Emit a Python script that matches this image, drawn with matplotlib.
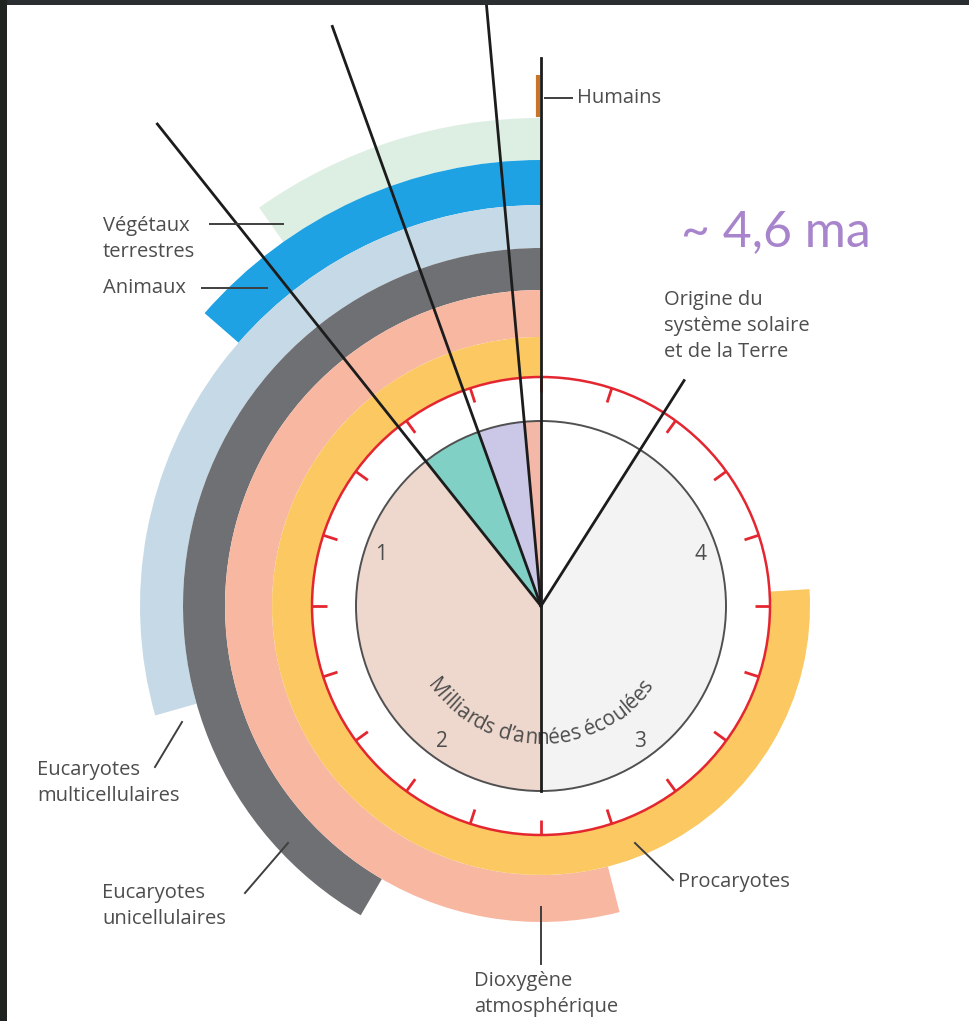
import numpy as np
import matplotlib
matplotlib.use("Agg")
import matplotlib.pyplot as plt
from matplotlib.patches import Wedge, Circle, Rectangle
from matplotlib.font_manager import FontProperties

W, H = 969, 1021          # taille de l'image en pixels (dpi = 100)
CX, CY = 541, H - 606     # centre du cadran, en coordonnées pixel (y vers le haut)
GA_TOUR = 5.0             # un tour complet du cadran = 5 milliards d'années
DEG_PAR_GA = 360.0 / GA_TOUR

# Données : début de chaque groupe (milliards d'années avant le présent)
ANNEAU_NOMS = ["Végétaux terrestres", "Animaux", "Eucaryotes multicellulaires",
               "Eucaryotes unicellulaires", "Dioxygène atmosphérique", "Procaryotes"]
ANNEAU_DEBUT_GA = [0.49, 0.68, 1.47, 2.08, 2.70, 3.80]

# Traits noirs partant du centre (Ga) et origine de la Terre
TRAITS_GA = [0.535, 0.275, 0.072]
ORIGINE_GA = 4.55

# Secteurs du disque central (bornes en Ga)
SECTEUR_BORNES_GA = [0.0, 0.072, 0.275, 0.535, 2.5, ORIGINE_GA, GA_TOUR]

# Graduations
GRAD_PAS_GA = 0.25
GRAD_CHIFFRES = [1, 2, 3, 4]

# Mise en forme (rayons en pixels, couleurs)
ANNEAU_RAYONS = [(446, 488), (401, 446), (358, 401), (316, 358), (269, 316), (229, 269)]
ANNEAU_COULEURS = ["#dcefe2", "#1ea2e4", "#c6d9e6", "#6f7074", "#f8b7a1", "#fbc862"]
SECTEUR_COULEURS = ["#f4b8a8", "#cbc7e6", "#81d0c6", "#eed7cd", "#f3f3f3", "#ffffff"]
R_DISQUE = 185
R_ROUGE = 229
ROUGE = "#e32630"
GRIS_TXT = "#4d4d4d"
NOIR = "#1c1c1c"

plt.rcParams["font.family"] = ["Open Sans", "DejaVu Sans"]


def angle(t):
    # angle matplotlib (degrés, depuis +x, sens trigo) pour un âge t en Ga
    return 90.0 + DEG_PAR_GA * t


def point(t, r):
    a = np.radians(angle(t))
    return CX + r * np.cos(a), CY + r * np.sin(a)


fig = plt.figure(figsize=(W / 100, H / 100), dpi=100)
ax = fig.add_axes([0, 0, 1, 1])
ax.set_xlim(0, W)
ax.set_ylim(0, H)
ax.set_aspect("equal")
ax.axis("off")

# Anneaux des groupes vivants
for debut, (r_in, r_out), coul in zip(ANNEAU_DEBUT_GA, ANNEAU_RAYONS, ANNEAU_COULEURS):
    ax.add_patch(Wedge((CX, CY), r_out, 90, angle(debut), width=r_out - r_in,
                       facecolor=coul, edgecolor="none", zorder=1))

# Disque central découpé en secteurs
for a, b, coul in zip(SECTEUR_BORNES_GA[:-1], SECTEUR_BORNES_GA[1:], SECTEUR_COULEURS):
    ax.add_patch(Wedge((CX, CY), R_DISQUE, angle(a), angle(b),
                       facecolor=coul, edgecolor="none", zorder=2))
ax.add_patch(Circle((CX, CY), R_DISQUE, facecolor="none", edgecolor="#505050",
                    linewidth=1.4, zorder=3))

# Cercle rouge gradué
ax.add_patch(Circle((CX, CY), R_ROUGE, facecolor="none", edgecolor=ROUGE,
                    linewidth=1.8, zorder=3))
for t in np.arange(0, GA_TOUR, GRAD_PAS_GA):
    x0, y0 = point(t, R_ROUGE)
    x1, y1 = point(t, R_ROUGE - 15)
    ax.plot([x0, x1], [y0, y1], color=ROUGE, linewidth=2.0,
            solid_capstyle="butt", zorder=3)

for n in GRAD_CHIFFRES:
    x, y = point(n, 168)
    ax.text(x, y, str(n), fontsize=15, color=GRIS_TXT, ha="center", va="center", zorder=4)

# Traits noirs depuis le centre
for t in TRAITS_GA:
    x, y = point(t, 616)
    ax.plot([CX, x], [CY, y], color=NOIR, linewidth=2.0, zorder=5)
x, y = point(ORIGINE_GA, 267)
ax.plot([CX, x], [CY, y], color=NOIR, linewidth=2.0, zorder=5)
ax.plot([CX, CX], [CY - R_DISQUE, CY + 548], color=NOIR, linewidth=2.0, zorder=5)

# Humains : petit trait orange tout en haut
ax.plot([CX - 2.5, CX - 2.5], [H - 75, H - 117], color="#c8742a",
        linewidth=3, solid_capstyle="butt", zorder=4)

# Texte courbe "Milliards d'années écoulées"
titre = "Milliards d\u2019années écoulées"
prop = FontProperties(family=["Open Sans", "DejaVu Sans"], size=15)
renderer = fig.canvas.get_renderer()


def largeur(s):
    if not s:
        return 0.0
    w, h, d = renderer.get_text_width_height_descent(s, prop, ismath=False)
    return w


R_TXT = 138
total = largeur(titre)
for i, ch in enumerate(titre):
    s = (largeur(titre[:i]) + largeur(titre[:i + 1])) / 2 - total / 2
    phi = -np.pi / 2 + s / R_TXT
    x = CX + R_TXT * np.cos(phi)
    y = CY + R_TXT * np.sin(phi)
    ax.text(x, y, ch, fontproperties=prop, color=GRIS_TXT, ha="center", va="baseline",
            rotation=np.degrees(phi) + 90, rotation_mode="anchor", zorder=4)

# Étiquettes et traits de rappel
def rappel(x0, y0, x1, y1):
    ax.plot([x0, x1], [H - y0, H - y1], color="#3f3f3f", linewidth=1.4, zorder=6)


def etiquette(x, y, s):
    ax.text(x, H - y, s, fontsize=14.5, color=GRIS_TXT, ha="left", va="center",
            linespacing=1.4, zorder=6)


etiquette(577, 98, "Humains")
rappel(545, 98, 572, 98)
etiquette(103, 239, "Végétaux\nterrestres")
rappel(210, 224, 283, 224)
etiquette(103, 288, "Animaux")
rappel(202, 288, 267, 288)
etiquette(664, 326, "Origine du\nsystème solaire\net de la Terre")
etiquette(37, 783, "Eucaryotes\nmulticellulaires")
rappel(155, 767, 182, 722)
etiquette(102, 906, "Eucaryotes\nunicellulaires")
rappel(245, 893, 288, 843)
etiquette(678, 882, "Procaryotes")
rappel(635, 843, 673, 880)
etiquette(474, 994, "Dioxygène\natmosphérique")
rappel(541, 907, 541, 964)

ax.text(681, H - 232, "~ 4,6 ma", fontsize=36, color="#a884cc",
        family=["Lato", "DejaVu Sans"], ha="left", va="center", zorder=6)

# Bordures sombres de la capture d'écran
ax.add_patch(Rectangle((0, H - 5), W, 5, facecolor="#2b2e31", edgecolor="none", zorder=10))
ax.add_patch(Rectangle((0, 0), 7, H, facecolor="#1f2420", edgecolor="none", zorder=10))

fig.savefig("out.png", dpi=100)
